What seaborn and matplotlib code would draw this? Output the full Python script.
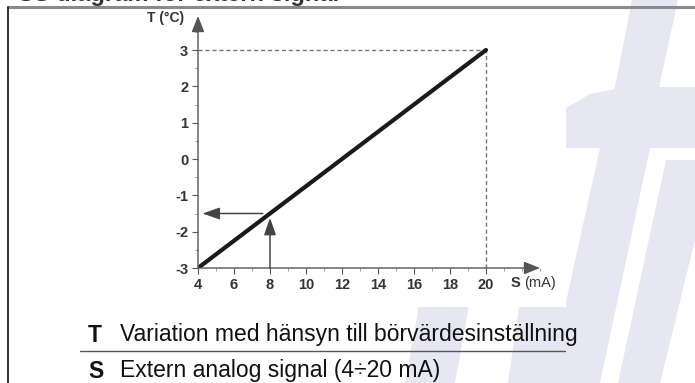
import matplotlib
matplotlib.use("Agg")
import matplotlib.pyplot as plt
from matplotlib.patches import Polygon, Rectangle
from matplotlib.lines import Line2D
from matplotlib.ticker import MultipleLocator
import seaborn as sns

# Characteristic: external signal S (mA) -> set point variation T (°C)
signal_ma = [4, 20]
variation_c = [-3, 3]
x_ticks = [4, 6, 8, 10, 12, 14, 16, 18, 20]
y_ticks = [-3, -2, -1, 0, 1, 2, 3]
example_s = 8
example_t = -1.5

legend_keys = ["T", "S"]
legend_texts = ["Variation med hänsyn till börvärdesinställning",
                "Extern analog signal (4÷20 mA)"]

sns.set_style("white")
plt.rcParams["font.family"] = ["Liberation Sans", "DejaVu Sans"]

W, H = 695, 383
fig = plt.figure(figsize=(W / 100, H / 100), dpi=100)
fig.patch.set_facecolor("white")


def fx(px):
    return px / W


def fy(py):
    return 1 - py / H


# faint logo watermark in the page background
wm = "#e6e7f3"
shapes = [
    [(632, 0), (678, 0), (658, 92), (614, 92)],
    [(566, 108), (590, 94), (625, 87), (695, 87), (695, 148), (566, 148)],
    [(600, 148), (650, 148), (600, 383), (548, 383)],
    [(666, 160), (695, 160), (695, 240), (660, 383), (618, 383)],
    [(420, 300), (470, 300), (455, 383), (405, 383)],
    [(520, 300), (566, 300), (552, 383), (508, 383)],
]
for pts in shapes:
    fig.add_artist(Polygon([(fx(a), fy(b)) for a, b in pts], closed=True,
                           facecolor=wm, edgecolor="none",
                           transform=fig.transFigure, zorder=0))
# white backing of the diagram
fig.add_artist(Rectangle((fx(140), fy(307)), fx(566 - 140), (307 - 10) / H,
                         facecolor="white", edgecolor="none",
                         transform=fig.transFigure, zorder=0.5))

# page frame
fig.add_artist(Line2D([fx(8), fx(695)], [fy(7), fy(7)], color="#8a8a8a",
                      lw=2.2, transform=fig.transFigure, zorder=3))
fig.add_artist(Line2D([fx(8), fx(8)], [fy(7), fy(383)], color="#222222",
                      lw=1.3, transform=fig.transFigure, zorder=3))
fig.text(fx(18), fy(1.5), "SS diagram för extern signal", fontsize=17,
         fontweight="bold", color="#333333", ha="left", va="baseline")

# axes geometry: S 4..23, T -3..3.99
x0, x1 = 198, 540
y_top, y_bot = 16, 268
ax = fig.add_axes([fx(x0), fy(y_bot), (x1 - x0) / W, (y_bot - y_top) / H])
ax.set_zorder(2)
ax.patch.set_alpha(0)
ax.set_xlim(4, 4 + (x1 - x0) / 18)
ax.set_ylim(-3, 3 + (50 - y_top) / 36.33)
for sp in ax.spines.values():
    sp.set_visible(False)

axis_col = "#555555"
arrow_kw = dict(arrowstyle="-|>,head_length=0.7,head_width=0.28",
                color="#333333", lw=1.0, shrinkA=0, shrinkB=0,
                mutation_scale=14)
ax.annotate("", xy=(ax.get_xlim()[1], -3), xytext=(4, -3),
            arrowprops=dict(arrow_kw, color=axis_col), annotation_clip=False)
ax.annotate("", xy=(4, ax.get_ylim()[1]), xytext=(4, -3),
            arrowprops=dict(arrow_kw, color=axis_col), annotation_clip=False)

ax.set_xticks(x_ticks)
ax.set_yticks(y_ticks)
ax.set_xticklabels([str(v) for v in x_ticks])
ax.set_yticklabels([str(v) for v in y_ticks])
ax.xaxis.set_minor_locator(MultipleLocator(1))
ax.yaxis.set_minor_locator(MultipleLocator(0.5))
ax.tick_params(axis="both", which="major", direction="out", length=4,
               width=0.8, color=axis_col, labelsize=10.5, labelcolor="#333333",
               pad=3)
ax.tick_params(axis="both", which="minor", direction="out", length=2.5,
               width=0.6, color="#888888")
ax.tick_params(axis="x", which="both", bottom=True)
ax.tick_params(axis="y", which="both", left=True)
for lab in ax.get_xticklabels() + ax.get_yticklabels():
    lab.set_fontweight("bold")

# dashed guides to the end point
ax.plot([signal_ma[0], signal_ma[1]], [variation_c[1], variation_c[1]],
        color="#777777", lw=1, dashes=(3, 2))
ax.plot([signal_ma[1], signal_ma[1]], [variation_c[0], variation_c[1]],
        color="#777777", lw=1, dashes=(3, 2))

# characteristic line
sns.lineplot(x=signal_ma, y=variation_c, ax=ax, color="#1a1a1a", lw=3,
             solid_capstyle="round")

# reading example
ref_kw = dict(arrowstyle="-|>,head_length=0.8,head_width=0.28",
              color="#444444", lw=1.1, shrinkA=0, shrinkB=0, mutation_scale=13)
ax.annotate("", xy=(example_s, example_t - 0.12), xytext=(example_s, -3),
            arrowprops=ref_kw)
ax.annotate("", xy=(4.25, example_t), xytext=(example_s - 0.4, example_t),
            arrowprops=ref_kw)

# axis titles
fig.text(fx(184), fy(18), "T (°C)", ha="right", va="center", fontsize=10,
         fontweight="bold", color="#333333", zorder=3)
fig.text(fx(511), fy(283), "S", fontsize=10.5, fontweight="bold",
         color="#333333", ha="left", va="center", zorder=3)
fig.text(fx(524), fy(283), "(mA)", fontsize=10.5, color="#333333",
         ha="left", va="center", zorder=3)

# legend rows below the diagram
rows_y = [335, 371]
for key, txt, yy in zip(legend_keys, legend_texts, rows_y):
    fig.text(fx(88), fy(yy), key, fontsize=16.5, fontweight="bold",
             color="#111111", ha="left", va="center", zorder=3)
    fig.text(fx(120), fy(yy), txt, fontsize=16.5, color="#111111",
             ha="left", va="center", zorder=3)
fig.add_artist(Line2D([fx(80), fx(565)], [fy(351), fy(351)], color="#555555",
                      lw=1, transform=fig.transFigure, zorder=3))

fig.savefig("out.png", dpi=100)
